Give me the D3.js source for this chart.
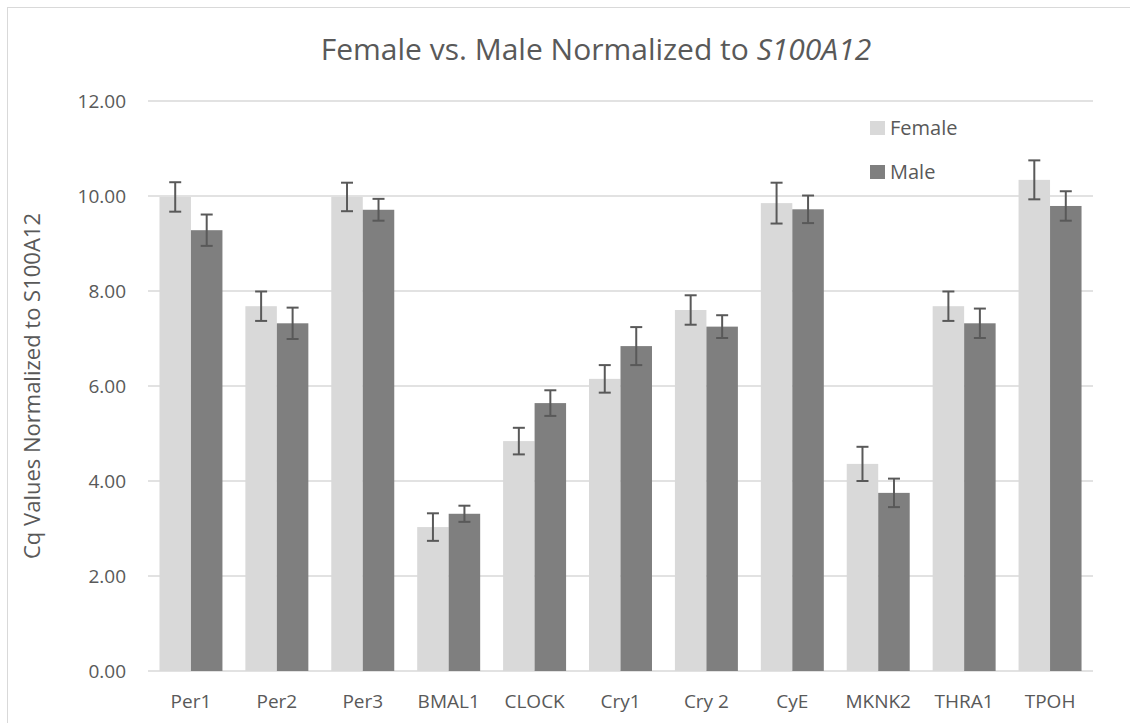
<!DOCTYPE html>
<html>
<head>
<meta charset="utf-8">
<script src="https://cdn.jsdelivr.net/npm/d3@7"></script>
<style>
  body { margin: 0; background: #fff; }
  text { font-family: "Open Sans", "Noto Sans", sans-serif; fill: #595959; }
</style>
</head>
<body>
<div id="chart"></div>
<script>
var width  = 1130;
var height = 723;

// genes along the x axis
var genes = ["Per1", "Per2", "Per3", "BMAL1", "CLOCK", "Cry1", "Cry 2", "CyE", "MKNK2", "THRA1", "TPOH"];
var series = ["Female", "Male"];

// mean Cq values
var femaleValues = [9.98, 7.68, 9.98, 3.03, 4.84, 6.15, 7.60, 9.85, 4.36, 7.68, 10.34];
var maleValues   = [9.28, 7.32, 9.71, 3.31, 5.64, 6.84, 7.25, 9.72, 3.75, 7.32, 9.79];

// error bar half-widths
var femaleErrors = [0.31, 0.31, 0.30, 0.29, 0.28, 0.29, 0.31, 0.43, 0.36, 0.31, 0.41];
var maleErrors   = [0.33, 0.33, 0.23, 0.17, 0.27, 0.40, 0.24, 0.29, 0.30, 0.31, 0.31];

var yTicks = [0, 2, 4, 6, 8, 10, 12];
var colors = { Female: "#d9d9d9", Male: "#7f7f7f" };

var margin = { top: 101, right: 37, bottom: 52, left: 148 };

var svg = d3.select("#chart").append("svg")
  .attr("width", width)
  .attr("height", height);

// chart frame
svg.append("rect")
  .attr("x", 7.5).attr("y", 7.5)
  .attr("width", width + 20).attr("height", height + 20)
  .attr("fill", "none")
  .attr("stroke", "#d9d9d9");

var x0 = d3.scaleBand()
  .domain(genes)
  .range([margin.left, width - margin.right])
  .paddingInner(0.267)
  .paddingOuter(0.1335);

var x1 = d3.scaleBand()
  .domain(series)
  .range([0, x0.bandwidth()]);

var y = d3.scaleLinear()
  .domain([0, 12])
  .range([height - margin.bottom, margin.top]);

// gridlines
svg.append("g")
  .selectAll("line")
  .data(yTicks)
  .enter().append("line")
  .attr("x1", margin.left)
  .attr("x2", width - margin.right)
  .attr("y1", function(d) { return y(d); })
  .attr("y2", function(d) { return y(d); })
  .attr("stroke", "#d9d9d9")
  .attr("stroke-width", 1.5);

// y axis labels
var yAxis = d3.axisLeft(y)
  .tickValues(yTicks)
  .tickFormat(d3.format(".2f"))
  .tickSize(0)
  .tickPadding(22);

var yg = svg.append("g")
  .attr("transform", "translate(" + margin.left + ",0)")
  .call(yAxis);
yg.select(".domain").remove();
yg.selectAll("text").style("font-size", "19px").attr("fill", "#595959");

// x axis labels
var xAxis = d3.axisBottom(x0).tickSize(0).tickPadding(24);
var xg = svg.append("g")
  .attr("transform", "translate(0," + (height - margin.bottom) + ")")
  .call(xAxis);
xg.select(".domain").remove();
xg.selectAll("text").style("font-size", "19px").attr("fill", "#595959");

// rows of data per gene
var rows = genes.map(function(g, i) {
  return [
    { gene: g, key: "Female", value: femaleValues[i], err: femaleErrors[i] },
    { gene: g, key: "Male",   value: maleValues[i],   err: maleErrors[i] }
  ];
});

var groups = svg.append("g")
  .selectAll("g")
  .data(rows)
  .enter().append("g")
  .attr("transform", function(d) { return "translate(" + x0(d[0].gene) + ",0)"; });

groups.selectAll("rect")
  .data(function(d) { return d; })
  .enter().append("rect")
  .attr("x", function(d) { return x1(d.key); })
  .attr("width", x1.bandwidth())
  .attr("y", function(d) { return y(d.value); })
  .attr("height", function(d) { return y(0) - y(d.value); })
  .attr("fill", function(d) { return colors[d.key]; });

// error bars
var capW = 6;
var eb = groups.selectAll(".err")
  .data(function(d) { return d; })
  .enter().append("g")
  .attr("class", "err")
  .attr("stroke", "#595959")
  .attr("stroke-width", 2);

eb.append("line")
  .attr("x1", function(d) { return x1(d.key) + x1.bandwidth() / 2; })
  .attr("x2", function(d) { return x1(d.key) + x1.bandwidth() / 2; })
  .attr("y1", function(d) { return y(d.value + d.err); })
  .attr("y2", function(d) { return y(d.value - d.err); });

eb.selectAll(".cap")
  .data(function(d) { return [d.value + d.err, d.value - d.err].map(function(v) { return { key: d.key, v: v }; }); })
  .enter().append("line")
  .attr("class", "cap")
  .attr("x1", function(d) { return x1(d.key) + x1.bandwidth() / 2 - capW; })
  .attr("x2", function(d) { return x1(d.key) + x1.bandwidth() / 2 + capW; })
  .attr("y1", function(d) { return y(d.v); })
  .attr("y2", function(d) { return y(d.v); });

// title
var title = svg.append("text")
  .attr("x", 596)
  .attr("y", 60)
  .attr("text-anchor", "middle")
  .style("font-size", "30px");
title.append("tspan").text("Female vs. Male Normalized to ");
title.append("tspan").style("font-style", "italic").text("S100A12");

// y axis title
svg.append("text")
  .attr("transform", "translate(40," + ((y(0) + y(12)) / 2) + ") rotate(-90)")
  .attr("text-anchor", "middle")
  .style("font-size", "22px")
  .text("Cq Values Normalized to S100A12");

// legend
var legend = svg.append("g")
  .selectAll("g")
  .data(series)
  .enter().append("g")
  .attr("transform", function(d, i) { return "translate(870," + (121 + i * 44) + ")"; });

legend.append("rect")
  .attr("width", 15).attr("height", 14)
  .attr("fill", function(d) { return colors[d]; });

legend.append("text")
  .attr("x", 20)
  .attr("y", 14)
  .style("font-size", "20px")
  .text(function(d) { return d; });
</script>
</body>
</html>
